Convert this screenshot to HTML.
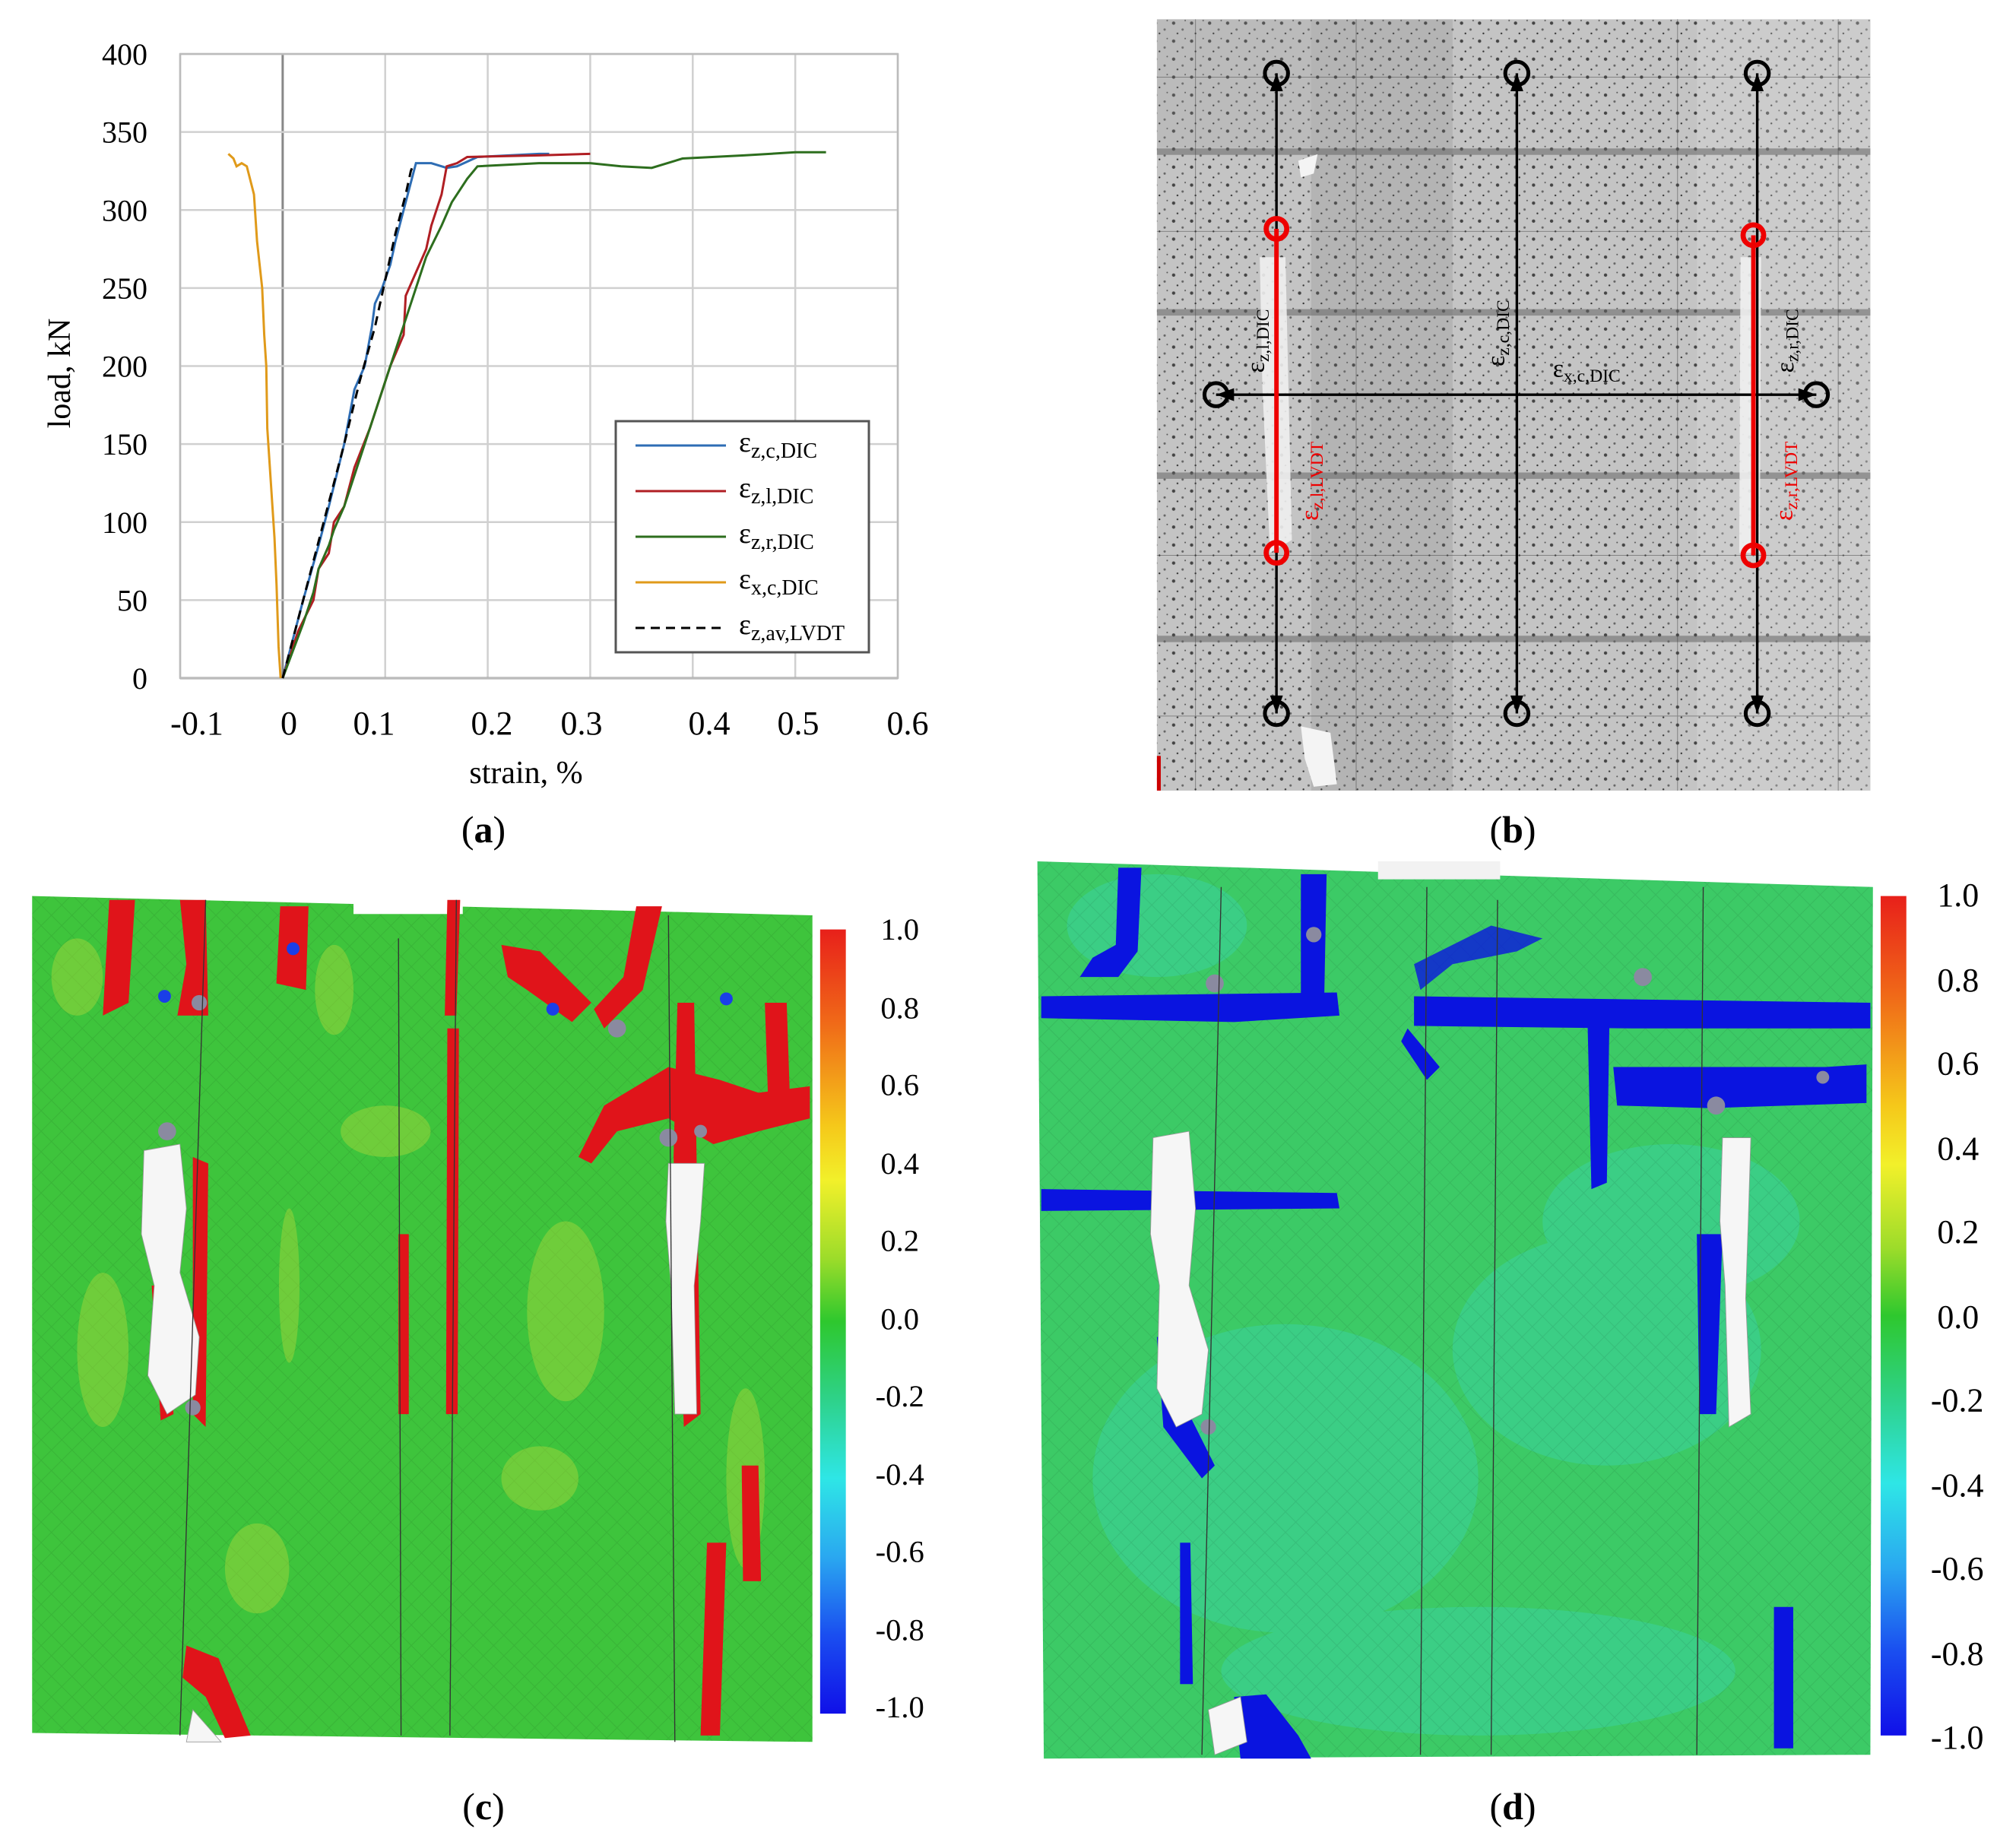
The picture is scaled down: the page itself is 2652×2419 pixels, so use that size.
<!DOCTYPE html>
<html><head><meta charset="utf-8"><style>
html,body{margin:0;padding:0;background:#fff}
svg{display:block}
text{font-family:"Liberation Serif",serif}
</style></head><body>
<svg id="root" width="2652" height="2419" viewBox="0 0 2652 2419" xmlns="http://www.w3.org/2000/svg">
<defs>
<linearGradient id="cbar" x1="0" y1="0" x2="0" y2="1">
<stop offset="0" stop-color="#e8201a"/><stop offset="0.12" stop-color="#f06a18"/><stop offset="0.25" stop-color="#f5c81a"/><stop offset="0.32" stop-color="#f2f02a"/><stop offset="0.42" stop-color="#9cdc2a"/><stop offset="0.5" stop-color="#2ec82e"/><stop offset="0.6" stop-color="#2ed28a"/><stop offset="0.7" stop-color="#2ee6e6"/><stop offset="0.8" stop-color="#2aa8f0"/><stop offset="0.9" stop-color="#1a4ef0"/><stop offset="1" stop-color="#1010e8"/>
</linearGradient>
<pattern id="speck" width="14" height="14" patternUnits="userSpaceOnUse">
<rect width="14" height="14" fill="#c4c4c4"/><circle cx="3" cy="4" r="1.3" fill="#444"/><circle cx="10" cy="9" r="0.9" fill="#666"/><circle cx="6" cy="12" r="0.7" fill="#333"/><circle cx="12" cy="2" r="0.6" fill="#555"/>
</pattern>
<pattern id="mesh" width="16" height="16" patternUnits="userSpaceOnUse">
<path d="M0 16 L16 0 M0 0 L16 16" stroke="#000" stroke-opacity="0.08" stroke-width="0.6"/>
</pattern>
</defs>

<!-- Panel (a) chart -->
<g id="chart"></g>
<text x="636" y="1108" font-size="50" text-anchor="middle">(<tspan font-weight="bold">a</tspan>)</text>

<!-- Panel (b) -->
<g transform="scale(1.691)">
<rect x="900" y="15" width="555" height="600" fill="url(#speck)"/>
<rect x="1020" y="15" width="110" height="600" fill="#777" opacity="0.2"/>
<rect x="900" y="15" width="120" height="100" fill="#999" opacity="0.2"/>
<rect x="1320" y="15" width="135" height="600" fill="#e4e4e4" opacity="0.25"/>
<g stroke="#666" stroke-width="5" opacity="0.55">
<line x1="900" y1="118" x2="1455" y2="118"/><line x1="900" y1="243" x2="1455" y2="243"/><line x1="900" y1="370" x2="1455" y2="370"/><line x1="900" y1="497" x2="1455" y2="497"/>
</g>
<g stroke="#444" stroke-width="0.6" opacity="0.5">
<line x1="900" y1="60" x2="1455" y2="60"/><line x1="900" y1="180" x2="1455" y2="180"/><line x1="900" y1="432" x2="1455" y2="432"/><line x1="900" y1="557" x2="1455" y2="557"/>
<line x1="930" y1="15" x2="930" y2="615"/><line x1="1055" y1="15" x2="1055" y2="615"/><line x1="1305" y1="15" x2="1305" y2="615"/><line x1="1430" y1="15" x2="1430" y2="615"/>
</g>
<path d="M1012 565 L1035 570 L1040 610 L1022 612 L1015 590Z" fill="#f4f4f4"/>
<path d="M1010 125 L1025 120 L1022 135 L1012 138Z" fill="#f4f4f4"/>
<path d="M980 200 L1000 200 L1005 420 L988 430 L982 300Z" fill="#f0f0f0" opacity="0.9"/>
<path d="M1354 200 L1370 200 L1369 430 L1353 430Z" fill="#f0f0f0" opacity="0.9"/>
<rect x="900" y="588" width="3" height="27" fill="#c00"/>
<g stroke="#000" stroke-width="2" fill="none">
<line x1="993" y1="57" x2="993" y2="555"/><line x1="1180" y1="57" x2="1180" y2="555"/><line x1="1367" y1="57" x2="1367" y2="555"/>
<line x1="946" y1="307" x2="1413" y2="307"/>
<circle cx="993" cy="57" r="9" stroke-width="3"/><circle cx="1180" cy="57" r="9" stroke-width="3"/><circle cx="1367" cy="57" r="9" stroke-width="3"/>
<circle cx="993" cy="555" r="9" stroke-width="3"/><circle cx="1180" cy="555" r="9" stroke-width="3"/><circle cx="1367" cy="555" r="9" stroke-width="3"/>
<circle cx="946" cy="307" r="9" stroke-width="3"/><circle cx="1413" cy="307" r="9" stroke-width="3"/>
</g>
<g fill="#000">
<path d="M993 57 l-5 14 h10z"/><path d="M1180 57 l-5 14 h10z"/><path d="M1367 57 l-5 14 h10z"/>
<path d="M993 555 l-5 -14 h10z"/><path d="M1180 555 l-5 -14 h10z"/><path d="M1367 555 l-5 -14 h10z"/>
<path d="M946 307 l14 -5 v10z"/><path d="M1413 307 l-14 -5 v10z"/>
</g>
<g stroke="#e00" stroke-width="3.5" fill="none">
<line x1="993" y1="178" x2="993" y2="430"/><line x1="1364" y1="183" x2="1364" y2="432"/>
<circle cx="993" cy="178" r="8" stroke-width="4"/><circle cx="993" cy="430" r="8" stroke-width="4"/>
<circle cx="1364" cy="183" r="8" stroke-width="4"/><circle cx="1364" cy="432" r="8" stroke-width="4"/>
</g>
<g font-size="20">
<text transform="translate(983,290) rotate(-90)">ε<tspan font-size="14" dy="4">z,l,DIC</tspan></text>
<text transform="translate(1170,285) rotate(-90)">ε<tspan font-size="14" dy="4">z,c,DIC</tspan></text>
<text transform="translate(1395,290) rotate(-90)">ε<tspan font-size="14" dy="4">z,r,DIC</tspan></text>
<text x="1208" y="293">ε<tspan font-size="14" dy="4">x,c,DIC</tspan></text>
<text transform="translate(1025,405) rotate(-90)" fill="#e00">ε<tspan font-size="14" dy="4">z,l,LVDT</tspan></text>
<text transform="translate(1394,405) rotate(-90)" fill="#e00">ε<tspan font-size="14" dy="4">z,r,LVDT</tspan></text>
</g>
</g>
<text x="1990" y="1108" font-size="50" text-anchor="middle">(<tspan font-weight="bold">b</tspan>)</text>

<!-- Panel (c) -->
<g transform="scale(1.691)">
<path d="M25 697 L632 712 L632 1355 L25 1348Z" fill="#3ec43c"/>
<path d="M25 697 L632 712 L632 1355 L25 1348Z" fill="url(#mesh)"/>
<rect x="275" y="697" width="85" height="14" fill="#fff"/>
<g fill="#b8dc3a" opacity="0.4">
<ellipse cx="225" cy="1000" rx="8" ry="60"/><ellipse cx="300" cy="880" rx="35" ry="20"/><ellipse cx="440" cy="1020" rx="30" ry="70"/>
<ellipse cx="580" cy="1150" rx="15" ry="70"/><ellipse cx="200" cy="1220" rx="25" ry="35"/><ellipse cx="420" cy="1150" rx="30" ry="25"/>
<ellipse cx="60" cy="760" rx="20" ry="30"/><ellipse cx="260" cy="770" rx="15" ry="35"/><ellipse cx="80" cy="1050" rx="20" ry="60"/>
</g>
<g fill="#e0141a">
<path d="M85 700 L105 700 L100 780 L80 790Z"/><path d="M140 700 L160 700 L162 790 L138 790 L145 750Z"/>
<path d="M218 705 L240 705 L238 770 L215 765Z"/><path d="M348 700 L358 700 L355 790 L346 790Z"/>
<path d="M495 705 L515 705 L500 770 L470 800 L462 785 L485 760Z"/>
<path d="M390 735 L420 740 L460 780 L445 795 L410 770 L395 760Z"/>
<path d="M450 900 L470 860 L520 830 L560 840 L590 850 L630 845 L630 870 L590 880 L555 890 L520 870 L480 880 L460 905Z"/>
<path d="M595 780 L612 780 L615 870 L598 870Z"/><path d="M527 780 L540 780 L545 1100 L532 1110 L524 900Z"/>
<path d="M348 800 L357 800 L356 1100 L347 1100Z"/><path d="M310 960 L318 960 L318 1100 L310 1100Z"/>
<path d="M118 1000 L128 1000 L135 1100 L125 1105Z"/><path d="M150 900 L162 905 L160 1110 L150 1100Z"/>
<path d="M145 1280 L170 1290 L195 1350 L175 1352 L160 1320 L142 1305Z"/>
<path d="M550 1200 L565 1200 L560 1350 L545 1350Z"/><path d="M577 1140 L590 1140 L592 1230 L578 1230Z"/>
</g>
<g fill="#f6f6f6" stroke="#999" stroke-width="0.5">
<path d="M112 895 L140 890 L145 940 L140 990 L155 1040 L152 1085 L130 1100 L115 1070 L120 1000 L110 960Z"/>
<path d="M520 905 L548 905 L545 950 L540 1000 L542 1100 L525 1100 L522 1000 L518 950Z"/>
<path d="M150 1330 L172 1355 L145 1355Z"/>
</g>
<g fill="#8a8aa0"><circle cx="130" cy="880" r="7"/><circle cx="155" cy="780" r="6"/><circle cx="480" cy="800" r="7"/><circle cx="520" cy="885" r="7"/><circle cx="150" cy="1095" r="6"/><circle cx="545" cy="880" r="5"/></g>
<g fill="#1a3ee8"><circle cx="128" cy="775" r="5"/><circle cx="228" cy="738" r="5"/><circle cx="430" cy="785" r="5"/><circle cx="565" cy="777" r="5"/></g>
<g stroke="#333" stroke-width="0.8" fill="none"><path d="M310 730 L312 1350"/><path d="M355 700 L350 1350"/><path d="M520 712 L525 1355"/><path d="M160 700 L140 1350"/></g>
<rect x="638" y="723" width="20" height="610" fill="url(#cbar)"/>
<g font-size="24">
<text x="685" y="731">1.0</text><text x="685" y="792">0.8</text><text x="685" y="852">0.6</text><text x="685" y="913">0.4</text><text x="685" y="973">0.2</text><text x="685" y="1034">0.0</text><text x="681" y="1094">-0.2</text><text x="681" y="1155">-0.4</text><text x="681" y="1215">-0.6</text><text x="681" y="1276">-0.8</text><text x="681" y="1336">-1.0</text>
</g>
</g>
<text x="636" y="2393" font-size="50" text-anchor="middle">(<tspan font-weight="bold">c</tspan>)</text>

<!-- Panel (d) -->
<g transform="scale(1.691)">
<path d="M807 670 L1457 690 L1455 1365 L812 1368Z" fill="#3cca66"/>
<g fill="#3ad8c0" opacity="0.35">
<ellipse cx="1000" cy="1150" rx="150" ry="120"/><ellipse cx="1250" cy="1050" rx="120" ry="90"/><ellipse cx="1150" cy="1300" rx="200" ry="50"/><ellipse cx="900" cy="720" rx="70" ry="40"/><ellipse cx="1300" cy="950" rx="100" ry="60"/>
</g>
<path d="M807 670 L1457 690 L1455 1365 L812 1368Z" fill="url(#mesh)"/>
<rect x="1072" y="670" width="95" height="14" fill="#f2f2f2"/>
<g fill="#0a14e0">
<path d="M870 675 L888 675 L885 740 L870 760 L840 760 L850 745 L868 735Z"/>
<path d="M810 775 L1040 772 L1042 790 L960 795 L810 792Z"/>
<path d="M1012 680 L1032 680 L1030 785 L1012 785Z"/>
<path d="M1100 775 L1455 780 L1455 800 L1270 800 L1100 798Z"/>
<path d="M1235 795 L1252 795 L1250 920 L1238 925Z"/>
<path d="M1255 830 L1420 830 L1452 828 L1452 858 L1330 862 L1258 860Z"/>
<path d="M810 925 L1040 928 L1042 940 L810 942Z"/>
<path d="M900 1040 L912 1040 L925 1100 L945 1140 L935 1150 L905 1110Z"/>
<path d="M1320 960 L1340 960 L1335 1100 L1322 1100Z"/>
<path d="M1380 1250 L1395 1250 L1395 1360 L1380 1360Z"/>
<path d="M960 1320 L985 1318 L1010 1350 L1020 1368 L965 1368Z"/>
<path d="M1100 750 L1160 720 L1200 730 L1180 740 L1130 750 L1105 770Z" opacity="0.8"/>
<path d="M1095 800 L1120 830 L1110 840 L1090 810Z"/>
<path d="M918 1200 L926 1200 L928 1310 L918 1310Z"/>
</g>
<g fill="#f6f6f6" stroke="#999" stroke-width="0.5">
<path d="M897 885 L925 880 L930 940 L925 1000 L940 1050 L935 1100 L915 1110 L900 1080 L902 1000 L895 960Z"/>
<path d="M1340 885 L1362 885 L1360 950 L1358 1010 L1362 1100 L1345 1110 L1342 1000 L1338 950Z"/>
<path d="M940 1330 L965 1320 L970 1355 L945 1365Z"/>
</g>
<g fill="#8a8aa0"><circle cx="945" cy="765" r="7"/><circle cx="1022" cy="727" r="6"/><circle cx="1278" cy="760" r="7"/><circle cx="1335" cy="860" r="7"/><circle cx="1418" cy="838" r="5"/><circle cx="940" cy="1110" r="6"/></g>
<g stroke="#333" stroke-width="0.8" fill="none"><path d="M950 690 L935 1365"/><path d="M1110 690 L1105 1365"/><path d="M1325 690 L1320 1365"/><path d="M1165 700 L1160 1365"/></g>
<rect x="1463" y="697" width="20" height="653" fill="url(#cbar)"/>
<g font-size="26">
<text x="1507" y="705">1.0</text><text x="1507" y="771">0.8</text><text x="1507" y="836">0.6</text><text x="1507" y="902">0.4</text><text x="1507" y="967">0.2</text><text x="1507" y="1033">0.0</text><text x="1502" y="1098">-0.2</text><text x="1502" y="1164">-0.4</text><text x="1502" y="1229">-0.6</text><text x="1502" y="1295">-0.8</text><text x="1502" y="1360">-1.0</text>
</g>
</g>
<text x="1990" y="2393" font-size="50" text-anchor="middle">(<tspan font-weight="bold">d</tspan>)</text>
</svg>
<script>
const xTicks=[-0.1,0,0.1,0.2,0.3,0.4,0.5,0.6];
const xTickLabels=["-0.1","0","0.1","0.2","0.3","0.4","0.5","0.6"];
const yTicks=[0,50,100,150,200,250,300,350,400];
const seriesNames=["z,c,DIC","z,l,DIC","z,r,DIC","x,c,DIC","z,av,LVDT"];
const seriesColors=["#2e6db4","#b01e23","#2d6e1e","#e09a1a","#000"];
const blueStrain=[0,0.02,0.035,0.045,0.06,0.07,0.08,0.087,0.09,0.097,0.105,0.11,0.118,0.122,0.13,0.145,0.16,0.17,0.19,0.25,0.26];
const blueLoad=[0,50,85,110,150,185,200,225,240,250,265,280,300,310,330,330,327,328,334,336,336];
const redStrain=[0,0.015,0.03,0.035,0.045,0.05,0.06,0.07,0.085,0.095,0.105,0.118,0.12,0.13,0.14,0.145,0.155,0.16,0.17,0.18,0.25,0.3];
const redLoad=[0,30,50,70,80,100,110,135,160,180,200,220,245,260,275,290,310,328,330,334,335,336];
const greenStrain=[0,0.02,0.03,0.035,0.045,0.05,0.06,0.07,0.08,0.09,0.1,0.11,0.12,0.13,0.14,0.155,0.165,0.18,0.19,0.25,0.3,0.33,0.36,0.39,0.45,0.5,0.53];
const greenLoad=[0,35,55,70,85,95,110,130,150,170,190,210,230,250,270,290,305,320,328,330,330,328,327,333,335,337,337];
const orangeStrain=[-0.053,-0.048,-0.045,-0.04,-0.035,-0.028,-0.025,-0.02,-0.018,-0.016,-0.015,-0.013,-0.01,-0.008,-0.006,-0.005,-0.004,-0.002];
const orangeLoad=[336,333,328,330,328,310,280,250,220,200,160,140,110,90,60,40,20,0];
const lvdtStrain=[0,0.02,0.04,0.06,0.075,0.09,0.1,0.11,0.12,0.125,0.128];
const lvdtLoad=[0,50,100,150,190,225,255,285,310,325,330];

const NS="http://www.w3.org/2000/svg";
const g=document.getElementById('chart');
const L=237,R=1181,T=71,B=892;
const sx=v=>L+(v+0.1)/0.7*(R-L);
const sy=v=>B-v/400*(B-T);
function mk(tag,attrs,parent){const e=document.createElementNS(NS,tag);for(const k in attrs)e.setAttribute(k,attrs[k]);(parent||g).appendChild(e);return e;}
const labelX=[259,380,492,647,765,933,1050,1194];
xTicks.forEach((t,i)=>{
  const ln=mk('line',{x1:sx(t),x2:sx(t),y1:T,y2:B,stroke:t===0?'#888':'#d0d0d0','stroke-width':t===0?3:2.5});
  
  
  const tx=mk('text',{x:labelX[i],y:966,'font-size':44,'text-anchor':'middle'});
  tx.textContent=xTickLabels[i];
  
  
});
yTicks.forEach(t=>{
  const ln=mk('line',{x1:L,x2:R,y1:sy(t),y2:sy(t),stroke:t===0?'#888':'#d0d0d0','stroke-width':t===0?3:2.5});
  
  
  const tx=mk('text',{x:194,y:sy(t)+14,'font-size':40,'text-anchor':'end'});
  tx.textContent=String(t);
  
  
});
const frame=mk('rect',{x:L,y:T,width:R-L,height:B-T,fill:'none',stroke:'#bbb','stroke-width':2.5});


const yt=mk('text',{transform:'translate(92,491) rotate(-90)','font-size':42,'text-anchor':'middle'});
yt.textContent='load, kN';


const xt=mk('text',{x:692,y:1030,'font-size':42,'text-anchor':'middle'});
xt.textContent='strain, %';


const sets=[[blueStrain,blueLoad],[redStrain,redLoad],[greenStrain,greenLoad],[orangeStrain,orangeLoad],[lvdtStrain,lvdtLoad]];
const lineNames=['line-ez-c-dic','line-ez-l-dic','line-ez-r-dic','line-ex-c-dic','line-ez-av-lvdt'];
sets.forEach((s,i)=>{
  const pts=s[0].map((x,j)=>sx(x)+','+sy(s[1][j])).join(' ');
  const pl=mk('polyline',{points:pts,fill:'none',stroke:seriesColors[i],'stroke-width':3,'stroke-dasharray':i===4?'12 8':'none'});
  
  
});
const lg=mk('g',{});


mk('rect',{x:810,y:554,width:333,height:304,fill:'#fff',stroke:'#555','stroke-width':3},lg);
seriesNames.forEach((n,i)=>{
  const y=586+i*60;
  const ln=mk('line',{x1:836,x2:955,y1:y,y2:y,stroke:seriesColors[i],'stroke-width':3,'stroke-dasharray':i===4?'12 8':'none'},lg);
  
  
  const t=mk('text',{x:972,y:y+8,'font-size':38},lg);
  t.innerHTML='ε<tspan font-size="28" dy="8">'+n+'</tspan>';
  
  
});
</script>
</body></html>
